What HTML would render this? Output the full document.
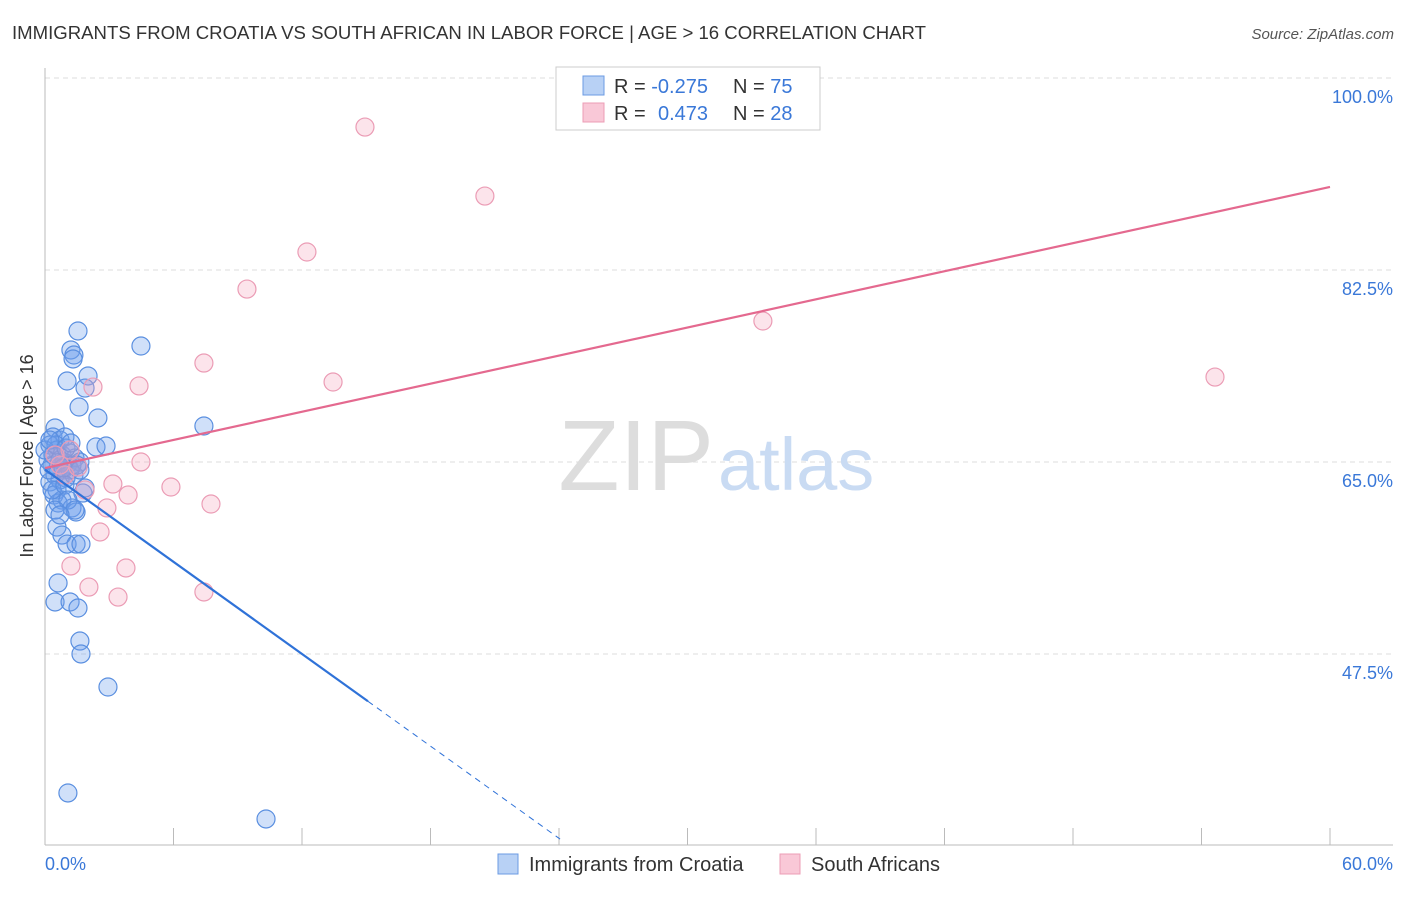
<!DOCTYPE html>
<html><head><meta charset="utf-8"><style>
body{margin:0;background:#fff;font-family:"Liberation Sans",sans-serif}
svg text{font-family:"Liberation Sans",sans-serif}
</style></head><body>
<svg width="1406" height="892" xmlns="http://www.w3.org/2000/svg">
<text x="12" y="39" font-size="18" fill="#333" textLength="914" lengthAdjust="spacingAndGlyphs">IMMIGRANTS FROM CROATIA VS SOUTH AFRICAN IN LABOR FORCE | AGE &gt; 16 CORRELATION CHART</text>
<text x="1394" y="39" font-size="15" font-style="italic" fill="#555" text-anchor="end">Source: ZipAtlas.com</text>
<g id="grid"></g>
<line x1="45" y1="68" x2="45" y2="845" stroke="#bbb"/>
<line x1="45" y1="845" x2="1393" y2="845" stroke="#bbb"/>
<g id="xticks"></g>
<text x="714" y="490" font-size="100" font-family="Liberation Serif" fill="#ddd" text-anchor="end">ZIP</text>
<text x="718" y="490" font-size="74" fill="#c9dbf3">atlas</text>
<g id="points"></g>
<g id="lines"></g>
<text transform="translate(33,456) rotate(-90)" font-size="18" fill="#333" text-anchor="middle">In Labor Force | Age &gt; 16</text>
<text x="45" y="870" font-size="18" fill="#3a78d8">0.0%</text>
<text x="1393" y="870" font-size="18" fill="#3a78d8" text-anchor="end">60.0%</text>
<g>
<rect x="556" y="67" width="264" height="63" fill="#fff" stroke="#ccc"/>
<rect x="583" y="76" width="21" height="19" fill="#b8d1f5" stroke="#6b9be3"/>
<rect x="583" y="103" width="21" height="19" fill="#f9c8d7" stroke="#ec9db6"/>
<text x="614" y="93" font-size="20" fill="#333">R = <tspan fill="#3a78d8">-0.275</tspan><tspan x="733">N = </tspan><tspan fill="#3a78d8">75</tspan></text>
<text x="614" y="120" font-size="20" fill="#333">R = <tspan x="658" fill="#3a78d8">0.473</tspan><tspan x="733">N = </tspan><tspan fill="#3a78d8">28</tspan></text>
</g>
<g>
<rect x="498" y="854" width="20" height="20" fill="#b8d1f5" stroke="#6b9be3"/>
<text x="529" y="871" font-size="20" fill="#333">Immigrants from Croatia</text>
<rect x="780" y="854" width="20" height="20" fill="#f9c8d7" stroke="#ec9db6"/>
<text x="811" y="871" font-size="20" fill="#333">South Africans</text>
</g>
</svg>
<script>
const yTicks=[100,82.5,65,47.5];
const yTickLabels=["100.0%","82.5%","65.0%","47.5%"];
const xTickVals=[0,6,12,18,24,30,36,42,48,54,60];
const blueX=[1.54,1.21,1.35,1.31,2.01,1.03,1.87,1.59,2.47,4.48,7.42,2.38,2.85,0.47,0.37,0.70,0.93,0.23,0.56,0.79,1.17,1.40,1.63,0.33,0.61,0.84,1.07,1.26,0.47,0.70,0.98,0.23,0.56,0.42,0.79,0.61,1.26,1.45,1.77,1.87,0.56,0.79,1.03,1.45,1.68,0.61,0.47,1.17,1.54,1.63,1.68,2.94,1.07,10.32,0.14,0.37,0.89,1.17,1.35,0.19,0.33,0.93,1.49,0.00,0.70,0.51,0.98,1.21,0.23,0.84,1.07,1.40,0.47,0.70,1.63];
const blueY=[76.94,75.21,74.75,74.39,72.84,72.38,71.74,70.01,69.01,75.57,68.28,66.37,66.46,68.10,67.28,67.00,67.28,66.55,66.09,65.64,65.82,65.36,65.00,64.72,64.45,64.27,64.82,64.72,63.81,63.36,63.54,63.18,62.45,61.99,61.53,61.26,60.81,60.44,62.17,62.63,59.07,58.34,57.52,57.52,57.52,53.97,52.24,52.24,51.69,48.68,47.50,44.49,34.83,32.46,65.18,65.64,65.00,64.27,63.81,64.27,62.45,62.90,64.72,66.09,65.18,66.55,66.27,66.73,67.00,64.45,61.53,60.62,60.62,60.17,64.27];
const pinkX=[14.94,20.54,12.23,9.43,33.52,54.63,7.42,13.45,4.39,2.24,4.48,5.88,7.75,3.88,3.17,2.89,1.87,2.57,3.78,1.21,2.05,3.41,7.42,1.54,0.70,0.47,1.17,0.93];
const pinkY=[95.53,89.24,84.14,80.76,77.85,72.74,74.02,72.29,71.93,71.83,65.00,62.72,61.17,61.99,62.99,60.81,62.45,58.62,55.34,55.52,53.60,52.69,53.15,64.54,64.72,65.64,66.09,63.81];
const blueTrend=[64.3,-1.40];
const blueSolidEnd=15.08;
const blueDashEnd=24.05;
const pinkTrend=[64.45,0.427];
const NS="http://www.w3.org/2000/svg";
const X=v=>45+v/60*1285;
const Y=v=>78+(100-v)*10.971;
function mk(t,a,p){const e=document.createElementNS(NS,t);for(const k in a)e.setAttribute(k,a[k]);p.appendChild(e);return e;}
const grid=document.getElementById('grid');
yTicks.forEach((t,i)=>{
 const l=mk('line',{x1:45,x2:1393,y1:Y(t),y2:Y(t),stroke:'#ddd','stroke-dasharray':'5,4'},grid);
 
 
 const tx=mk('text',{x:1393,y:Y(t)+25,'font-size':18,fill:'#3a78d8','text-anchor':'end'},grid);
 tx.textContent=yTickLabels[i];
 
 
});
const xt=document.getElementById('xticks');
xTickVals.forEach(v=>{
 const l=mk('line',{x1:X(v),x2:X(v),y1:828,y2:845,stroke:'#bbb'},xt);
 
 
});
const pts=document.getElementById('points');
blueX.forEach((v,i)=>{
 const c=mk('circle',{cx:X(v),cy:Y(blueY[i]),r:9,fill:'rgba(110,160,235,0.32)',stroke:'#5a8fe0','stroke-width':1.2},pts);
 
 
});
pinkX.forEach((v,i)=>{
 const c=mk('circle',{cx:X(v),cy:Y(pinkY[i]),r:9,fill:'rgba(245,165,190,0.3)',stroke:'#eb9cb5','stroke-width':1.2},pts);
 
 
});
const ln=document.getElementById('lines');
const by=x=>blueTrend[0]+blueTrend[1]*x;
const py=x=>pinkTrend[0]+pinkTrend[1]*x;
let a=mk('line',{x1:X(0),y1:Y(py(0)),x2:X(60),y2:Y(py(60)),stroke:'#e4698f','stroke-width':2.2},ln);


let b=mk('line',{x1:X(0),y1:Y(by(0)),x2:X(blueSolidEnd),y2:Y(by(blueSolidEnd)),stroke:'#2f72d8','stroke-width':2.2},ln);


let d=mk('line',{x1:X(blueSolidEnd),y1:Y(by(blueSolidEnd)),x2:X(blueDashEnd),y2:Y(by(blueDashEnd)),stroke:'#2f72d8','stroke-width':1,'stroke-dasharray':'6,5'},ln);


</script>
</body></html>
